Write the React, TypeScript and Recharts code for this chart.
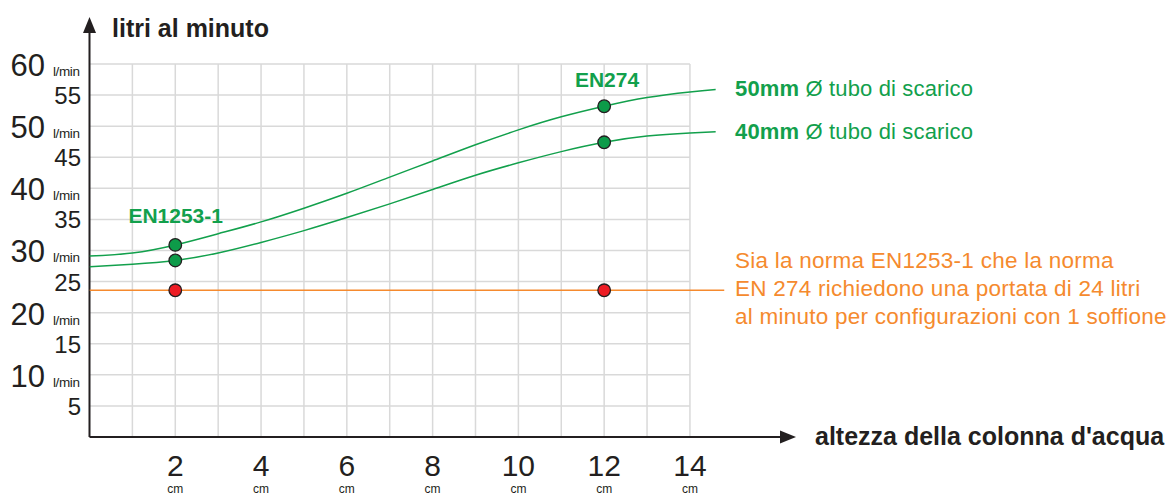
import React from 'react';
import { ComposedChart, Line, Scatter, XAxis, YAxis, ReferenceLine } from "recharts";

// water column height (cm) where the curves were read
const heightCm = [0, 1, 2, 3, 4, 5, 6, 7, 8, 9, 10, 11, 12, 13, 14, 14.6];
// flow (l/min) for 50mm drain pipe
const flow50mm = [29.1, 29.6, 30.9, 32.7, 34.6, 36.8, 39.2, 41.8, 44.4, 47.0, 49.4, 51.5, 53.2, 54.6, 55.5, 55.9];
// flow (l/min) for 40mm drain pipe
const flow40mm = [27.4, 27.8, 28.4, 29.6, 31.3, 33.2, 35.3, 37.5, 39.8, 42.1, 44.1, 45.9, 47.4, 48.4, 48.9, 49.1];

// test points EN1253-1 (2cm) and EN274 (12cm)
const testHeights = [2, 12];
const test50mm = [30.9, 53.2];
const test40mm = [28.4, 47.4];
const requiredFlow = 23.6;
const requiredLineEnd = 14.8;

const xTicks = [2, 4, 6, 8, 10, 12, 14];
const yTicks = [5, 10, 15, 20, 25, 30, 35, 40, 45, 50, 55, 60];
const gridX = [1, 2, 3, 4, 5, 6, 7, 8, 9, 10, 11, 12, 13, 14];
const gridY = [5, 10, 15, 20, 25, 30, 35, 40, 45, 50, 55, 60];

const GREEN = "#12a04c";
const ORANGE = "#f58a2e";
const RED = "#ed1c24";
const INK = "#231f20";
const FONT = "'Liberation Sans', Arial, sans-serif";

const curve50 = heightCm.map((x, i) => ({ x, y: flow50mm[i] }));
const curve40 = heightCm.map((x, i) => ({ x, y: flow40mm[i] }));
const dots50 = testHeights.map((x, i) => ({ x, y: test50mm[i] }));
const dots40 = testHeights.map((x, i) => ({ x, y: test40mm[i] }));
const reqLine = [{ x: 0, y: requiredFlow }, { x: requiredLineEnd, y: requiredFlow }];
const reqDots = testHeights.map((x) => ({ x, y: requiredFlow }));

function ArrowLine(props: any) {
  const { x1, y1, x2, y2 } = props;
  const dx = x2 - x1;
  const dy = y2 - y1;
  const len = Math.sqrt(dx * dx + dy * dy) || 1;
  const ux = dx / len;
  const uy = dy / len;
  const tipX = x2 + ux * 16;
  const tipY = y2 + uy * 16;
  const px = -uy * 6.5;
  const py = ux * 6.5;
  return (
    <g>
      <line x1={x1} y1={y1} x2={x2} y2={y2} stroke={INK} strokeWidth={2} />
      <polygon points={`${tipX},${tipY} ${x2 + px},${y2 + py} ${x2 - px},${y2 - py}`} fill={INK} />
    </g>
  );
}

function YTick(props: any) {
  const { y, payload } = props;
  const v = payload.value;
  if (v % 10 === 0) {
    return (
      <g fontFamily={FONT} fill={INK}>
        <text x={45} y={y + 12} textAnchor="end" fontSize={31} fill={INK}>{v}</text>
        <text x={53} y={y + 12} fontSize={13.5} fill={INK} letterSpacing={-0.4}>l/min</text>
      </g>
    );
  }
  return (
    <text x={81} y={y + 9} textAnchor="end" fontSize={24} fontFamily={FONT} fill={INK}>{v}</text>
  );
}

function XTick(props: any) {
  const { x, payload } = props;
  return (
    <g fontFamily={FONT}>
      <text x={x} y={476} textAnchor="middle" fontSize={30} fill={INK}>{payload.value}</text>
      <text x={x} y={493} textAnchor="middle" fontSize={12} fill={INK}>cm</text>
    </g>
  );
}

function Marker(props: any) {
  const { cx, cy, fill } = props;
  return <circle cx={cx} cy={cy} r={6.3} fill={fill} stroke={INK} strokeWidth={1.3} />;
}

export default function App() {
  return (
    <div style={{ position: "absolute", left: 0, top: 0, width: 1171, height: 495, background: "#fff" }}>
      <ComposedChart width={1171} height={495} margin={{ top: 32.9, right: 391, bottom: 0, left: 0 }}>
        <XAxis type="number" dataKey="x" domain={[0, 16.1]} ticks={xTicks} interval={0}
          axisLine={false} tickLine={false} height={58} tick={<XTick />} allowDataOverflow />
        <YAxis type="number" dataKey="y" domain={[0, 65]} ticks={yTicks} interval={0}
          axisLine={false} tickLine={false} width={89.5} tick={<YTick />} allowDataOverflow />

        {gridX.map((g) => (
          <ReferenceLine key={`gx${g}`} segment={[{ x: g, y: 0 }, { x: g, y: 60 }]} stroke="#d9d9d9" strokeWidth={1.5} />
        ))}
        {gridY.map((g) => (
          <ReferenceLine key={`gy${g}`} segment={[{ x: 0, y: g }, { x: 14, y: g }]} stroke="#d9d9d9" strokeWidth={1.5} />
        ))}

        <ReferenceLine segment={[{ x: 0, y: 0 }, { x: 16.1, y: 0 }]} shape={ArrowLine} />
        <ReferenceLine segment={[{ x: 0, y: 0 }, { x: 0, y: 65 }]} shape={ArrowLine} />

        <Line data={reqLine} dataKey="y" type="linear" stroke={ORANGE} strokeWidth={1.5} dot={false} isAnimationActive={false} />
        <Line data={curve50} dataKey="y" type="natural" stroke={GREEN} strokeWidth={1.5} dot={false} isAnimationActive={false} />
        <Line data={curve40} dataKey="y" type="natural" stroke={GREEN} strokeWidth={1.5} dot={false} isAnimationActive={false} />

        <Scatter data={reqDots} dataKey="y" fill={RED} shape={Marker} isAnimationActive={false} />
        <Scatter data={dots50} dataKey="y" fill="#0d9b49" shape={Marker} isAnimationActive={false} />
        <Scatter data={dots40} dataKey="y" fill="#0d9b49" shape={Marker} isAnimationActive={false} />
      </ComposedChart>

      <svg width={1171} height={495} style={{ position: "absolute", left: 0, top: 0, pointerEvents: "none" }} fontFamily={FONT}>
        <text x={112} y={37} fontSize={25} fontWeight="bold" fill={INK}>litri al minuto</text>
        <text x={815} y={445} fontSize={25} fontWeight="bold" fill={INK}>altezza della colonna d'acqua</text>

        <text x={175.7} y={222.7} textAnchor="middle" fontSize={21} fontWeight="bold" fill={GREEN}>EN1253-1</text>
        <text x={607} y={86.7} textAnchor="middle" fontSize={21} fontWeight="bold" fill={GREEN}>EN274</text>

        <text x={735} y={96} fontSize={22} letterSpacing={0.15} fill={GREEN}>
          <tspan fontWeight="bold">50mm</tspan> Ø tubo di scarico
        </text>
        <text x={735} y={139} fontSize={22} letterSpacing={0.15} fill={GREEN}>
          <tspan fontWeight="bold">40mm</tspan> Ø tubo di scarico
        </text>

        <text fontSize={22.5} letterSpacing={0.25} fill={ORANGE}>
          <tspan x={735} y={268}>Sia la norma EN1253-1 che la norma</tspan>
          <tspan x={735} y={296}>EN 274 richiedono una portata di 24 litri</tspan>
          <tspan x={735} y={324}>al minuto per configurazioni con 1 soffione</tspan>
        </text>
      </svg>
    </div>
  );
}
